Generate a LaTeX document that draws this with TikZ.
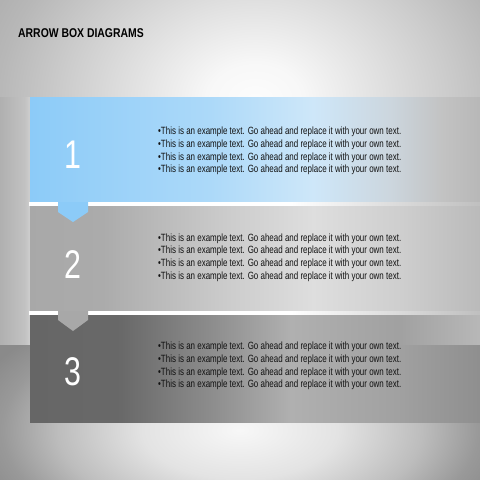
\documentclass[tikz,border=0pt]{standalone}
\usepackage{fontspec}
\setmainfont{Liberation Sans}
\newfontfamily\narrow{Liberation Sans}[FakeStretch=0.76]
\newfontfamily\narrowb{Liberation Sans Bold}[FakeStretch=0.82]
\definecolor{txtc}{HTML}{111111}
\definecolor{blueA}{RGB}{140,203,248}
\definecolor{blueB}{RGB}{172,217,249}
\definecolor{blueC}{RGB}{206,231,249}
\definecolor{blueD}{RGB}{204,214,222}
% TikZ maps the shading's 25bp..75bp band onto the path
\pgfdeclareradialshading{wallrad}{\pgfpoint{0bp}{0bp}}{color(0bp)=(black!1); color(3.75bp)=(black!3); color(9.75bp)=(black!12); color(15bp)=(black!20); color(20bp)=(black!28); color(25bp)=(black!34); color(50bp)=(black!34)}
\pgfdeclarehorizontalshading{leftstrip}{100bp}{color(0bp)=(black!31); color(25bp)=(black!31); color(66bp)=(black!24); color(75bp)=(black!19); color(100bp)=(black!19)}
\pgfdeclareradialshading{floorrad}{\pgfpoint{0bp}{0bp}}{color(0bp)=(black!3); color(8.75bp)=(black!11); color(16.25bp)=(black!26); color(21.25bp)=(black!40); color(25bp)=(black!46); color(50bp)=(black!46)}
\pgfdeclarehorizontalshading{boxoneshade}{100bp}{color(0bp)=(blueA); color(25bp)=(blueA); color(45bp)=(blueB); color(56.5bp)=(blueC); color(65bp)=(blueD); color(71bp)=(black!24); color(75bp)=(black!28); color(100bp)=(black!28)}
\pgfdeclarehorizontalshading{boxtwoshade}{100bp}{color(0bp)=(black!34); color(25bp)=(black!34); color(33bp)=(black!33); color(47bp)=(black!20); color(56.5bp)=(black!13); color(66bp)=(black!19); color(75bp)=(black!27); color(100bp)=(black!27)}
\pgfdeclarehorizontalshading{boxthreeup}{100bp}{color(0bp)=(black!60); color(25bp)=(black!60); color(35bp)=(black!59); color(45bp)=(black!45); color(54bp)=(black!31); color(66bp)=(black!37); color(71bp)=(black!32); color(75bp)=(black!28); color(100bp)=(black!28)}
\pgfdeclarehorizontalshading{boxthreelow}{100bp}{color(0bp)=(black!60); color(25bp)=(black!60); color(35bp)=(black!59); color(45bp)=(black!45); color(54bp)=(black!31); color(66bp)=(black!37); color(71bp)=(black!41); color(75bp)=(black!44); color(100bp)=(black!44)}
\pgfdeclarehorizontalshading{sepshade}{100bp}{color(0bp)=(white); color(25bp)=(white); color(54bp)=(white); color(64bp)=(black!12); color(75bp)=(black!25); color(100bp)=(black!25)}
\tikzset{
  txt/.style={anchor=west, align=left, text=txtc, inner sep=0pt,
    font=\narrow\fontsize{10.5}{12.6}\selectfont},
  num/.style={text=white, inner sep=0pt, font=\narrow\fontsize{40}{40}\selectfont},
  sep/.style={shading=sepshade},
}
\begin{document}
\begin{tikzpicture}[x=1pt,y=-1pt]
\useasboundingbox (0,0) rectangle (480,480);
% background wall
\begin{scope}
\clip (0,0) rectangle (480,345);
\shade[shading=wallrad] (-65,-150) rectangle (575,350);
\end{scope}
\shade[shading=leftstrip] (0,97) rectangle (30,345);
% floor
\begin{scope}
\clip (0,345) rectangle (480,480);
\shade[shading=floorrad] (-40,290) rectangle (520,570);
\end{scope}
% box 3
\shade[shading=boxthreeup] (30,314) rectangle (480,345.2);
\shade[shading=boxthreelow] (30,345) rectangle (480,422);
% box 2
\shade[shading=boxtwoshade] (30,206) rectangle (480,311);
\shade[sep] (29,311) rectangle (480,314);
\fill[black!34] (58,311) -- (58,320) -- (73,331) -- (88,320) -- (88,311) -- cycle;
% box 1
\shade[shading=boxoneshade] (30,97) rectangle (480,202);
\shade[sep] (29,202.5) rectangle (480,205.5);
\fill[blueA] (58,202) -- (58,212) -- (73,222) -- (88,212) -- (88,202) -- cycle;
% title
\node[anchor=west, inner sep=0pt, font=\narrowb\fontsize{12.7}{13}\selectfont] (title) at (18,33) {ARROW BOX DIAGRAMS};
% numbers
\node[num] (n1) at (73,155) {1};
\node[num] (n2) at (73,265) {2};
\node[num] (n3) at (73,372) {3};
% texts
\node[txt] (t1) at (158,151) {•This is an example text. Go ahead and replace it with your own text.\\•This is an example text. Go ahead and replace it with your own text.\\•This is an example text. Go ahead and replace it with your own text.\\•This is an example text. Go ahead and replace it with your own text.};
\node[txt] (t2) at (158,257.5) {•This is an example text. Go ahead and replace it with your own text.\\•This is an example text. Go ahead and replace it with your own text.\\•This is an example text. Go ahead and replace it with your own text.\\•This is an example text. Go ahead and replace it with your own text.};
\node[txt] (t3) at (158,366) {•This is an example text. Go ahead and replace it with your own text.\\•This is an example text. Go ahead and replace it with your own text.\\•This is an example text. Go ahead and replace it with your own text.\\•This is an example text. Go ahead and replace it with your own text.};
\end{tikzpicture}
\end{document}
